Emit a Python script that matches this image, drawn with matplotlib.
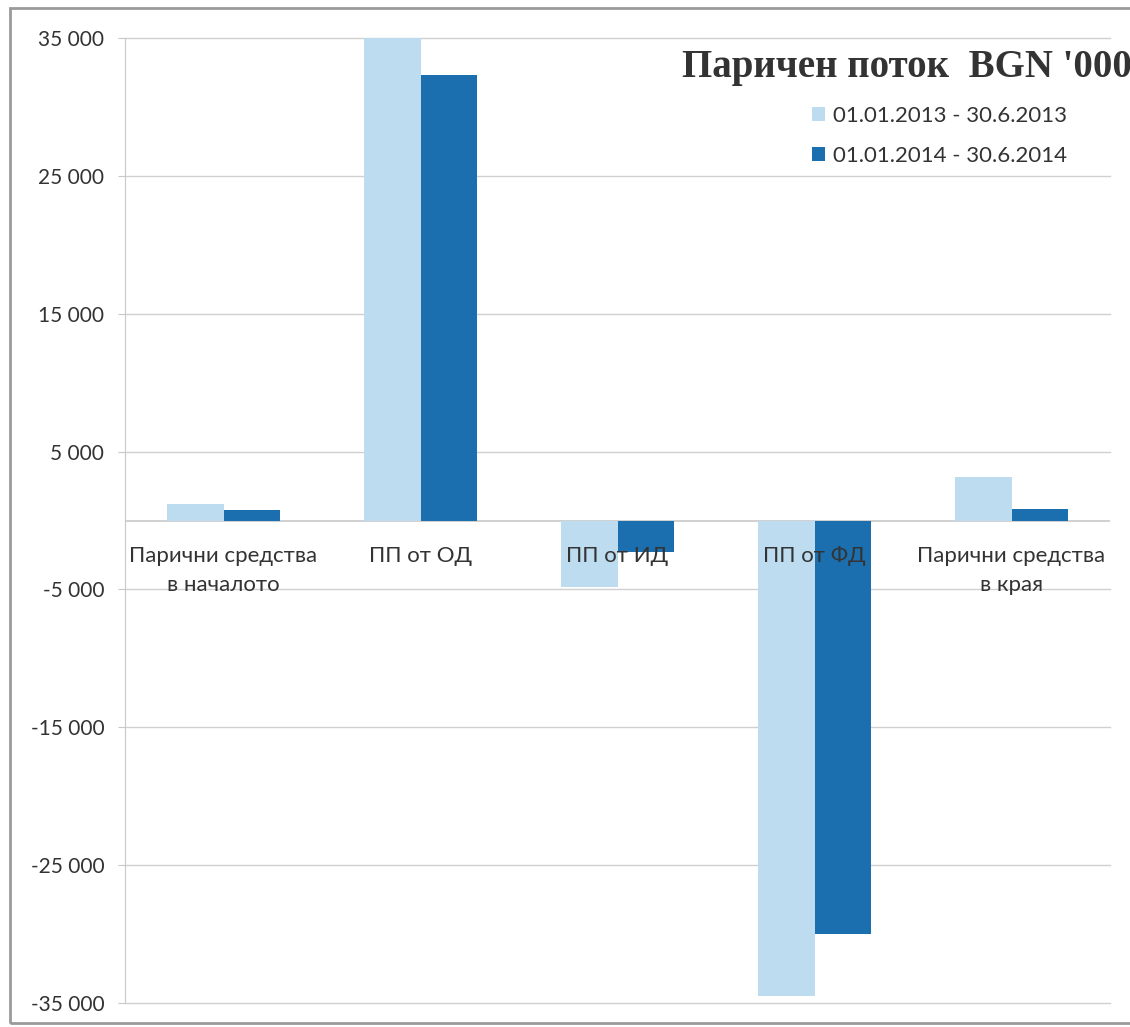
import numpy as np
import matplotlib.pyplot as plt
from matplotlib.patches import Rectangle
from matplotlib.ticker import FuncFormatter

# DATA
categories = ["Парични средства\nв началото", "ПП от ОД", "ПП от ИД",
              "ПП от ФД", "Парични средства\nв края"]
series_names = ["01.01.2013 - 30.6.2013", "01.01.2014 - 30.6.2014"]
vals_2013 = [1200, 35500, -4800, -34500, 3150]
vals_2014 = [750, 32300, -2300, -30000, 800]
yticks = [-35000, -25000, -15000, -5000, 5000, 15000, 25000, 35000]

light = "#bddcf0"
dark = "#1c6fae"
txt = "#333333"

fig = plt.figure(figsize=(11.3, 10.27), dpi=100, facecolor="white")
ax = fig.add_axes([125/1130, 1 - 1003/1027, 985/1130, (1003-38)/1027])

x = np.arange(len(categories))
w = 0.285
ax.bar(x - w/2, vals_2013, w, color=light, label=series_names[0], zorder=2)
ax.bar(x + w/2, vals_2014, w, color=dark, label=series_names[1], zorder=2)

ax.set_xlim(-0.5, 4.5)
ax.set_ylim(-35000, 35000)
ax.set_yticks(yticks)
ax.yaxis.set_major_formatter(FuncFormatter(lambda v, p: f"{int(v):,}".replace(",", " ")))
ax.tick_params(axis="y", length=5, color="#c8c8c8", labelsize=15, labelcolor=txt, pad=10)
for lab in ax.get_yticklabels():
    lab.set_family("Lato")
ax.set_xticks([])
ax.grid(axis="y", color="#d0d0d0", lw=1, zorder=0)
for gl in ax.get_ygridlines():
    gl.set_clip_on(False)
ax.axhline(0, color="#c8c8c8", lw=1.2, zorder=1)
for s in ["top", "right", "bottom"]:
    ax.spines[s].set_visible(False)
ax.spines["left"].set_color("#c8c8c8")

# category labels sit just under the zero line, on top of the bars
for i, c in enumerate(categories):
    ax.text(i, -1850, c, ha="center", va="top", fontsize=16, family="Lato",
            color=txt, linespacing=1.55, zorder=5)

# title + legend
fig.text(1132/1130, 1 - 68/1027, "Паричен поток  BGN '000", ha="right", va="center",
         fontsize=28, fontweight="bold", family="Liberation Serif", color="#333333")
ax.legend(loc="upper left", bbox_to_anchor=(792/1130, 1 - 86/1027),
          bbox_transform=fig.transFigure, frameon=False,
          handlelength=0.6, handleheight=0.6, handletextpad=0.35, labelspacing=0.9,
          prop={"family": "Lato", "size": 16}, labelcolor=txt)

fig.patches.append(Rectangle((10/1130, 0.004), 1.2, 1 - 8/1027 - 0.004, transform=fig.transFigure,
                             fill=False, edgecolor="#9a9a9a", lw=2))

fig.savefig("out.png", dpi=100)
